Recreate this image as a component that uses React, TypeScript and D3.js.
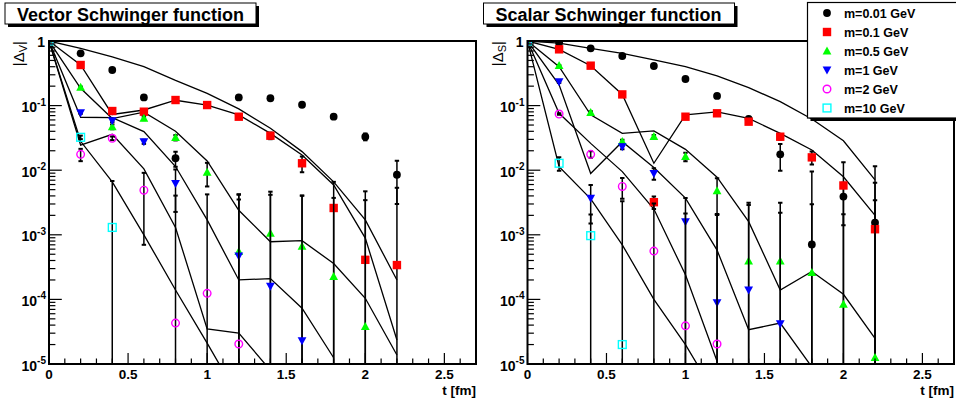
import React from "react";
import * as d3 from "d3";

// ---------- data ----------
const T = [0, 0.2, 0.4, 0.6, 0.8, 1.0, 1.2, 1.4, 1.6, 1.8, 2.0, 2.2];
const MASS_LABELS = ["m=0.01 GeV", "m=0.1 GeV", "m=0.5 GeV", "m=1 GeV", "m=2 GeV", "m=10 GeV"];
const COLORS = ["#000000", "#ff0000", "#00ff00", "#0000ff", "#ff00ff", "#00ffff"];
const SHAPES = ["circle", "square", "triUp", "triDown", "openCircle", "openSquare"];
const X_TICKS = [0, 0.5, 1, 1.5, 2, 2.5];
const Y_DECADES = [0, -1, -2, -3, -4, -5];

// Vector Schwinger function: points (null = not shown) and errors
const vecBlack = [1, 0.645, 0.356, 0.134, 0.0153, 0.102, 0.134, 0.13, 0.103, 0.0673, 0.033, 0.0085];
const vecBlackErr = [0, 0.01, 0.005, 0.005, 0.004, 0.005, 0.005, 0.005, 0.005, 0.004, 0.004, 0.0055];
const vecRed = [1, 0.425, 0.0824, 0.0805, 0.122, 0.102, 0.0673, 0.0342, 0.0128, 0.0026, 0.00041, 0.00034];
const vecRedErr = [0, 0.01, 0.005, 0.005, 0.005, 0.005, 0.004, 0.004, 0.0035, 0.004, 0.0043, 0.005];
const vecGreen = [1, 0.192, 0.047, 0.0636, 0.0319, 0.0093, 0.00055, 0.00105, 0.00066, 0.000225, 0.000038, null];
const vecGreenErr = [0, 0.005, 0.004, 0.004, 0.003, 0.0037, 0.0037, 0.0036, 0.0034, 0.0035, 0.0034, 0];
const vecBlue = [1, 0.0777, 0.0584, 0.0276, 0.00626, null, 0.00047, 0.00016, 0.000023, null, null, null];
const vecBlueErr = [0, 0.003, 0.003, 0.002, 0.004, 0, 0.0037, 0.004, 0.004, 0, 0, 0];
const vecMagenta = [1, 0.0176, 0.0312, 0.0049, 0.000043, 0.000124, 0.0000204, null, null, null, null, null];
const vecMagentaErr = [0, 0.0038, 0.002, 0.0042, 0.004, 0.0041, 0.0035, 0, 0, 0, 0, 0];
const vecCyan = [1, 0.0323, 0.0013, null, null, null, null, null, null, null, null, null];
const vecCyanErr = [0, 0.002, 0.0055, 0, 0, 0, 0, 0, 0, 0, 0, 0];

// Vector: model curves
const vecLineBlack = [1, 0.77, 0.57, 0.4, 0.245, 0.155, 0.089, 0.0446, 0.0194, 0.0066, 0.0017, 0.0002];
const vecLineRed = [1, 0.425, 0.073, 0.0855, 0.121, 0.102, 0.0716, 0.0372, 0.0172, 0.0059, 0.00089, 0.0000235];
const vecLineGreen = [1, 0.185, 0.063, 0.079, 0.04, 0.0139, 0.0024, 0.00078, 0.00081, 0.00036, 0.000104, 0.0000138];
const vecLineBlue = [1, 0.066, 0.065, 0.0395, 0.0114, 0.0017, 0.0002, 0.00021, 0.000073, 0.0000125];
const vecLineMagenta = [1, 0.0245, 0.036, 0.0105, 0.0013, 0.000035, 0.00003, 0.000008];
const vecLineCyan = [1, 0.028, 0.0066, 0.001, 0.00014, 0.000021, 0.000003];

// Scalar Schwinger function
const scaBlack = [1, 0.94, 0.77, 0.586, 0.41, 0.258, 0.141, 0.062, 0.0176, 0.00071, 0.0039, 0.00154];
const scaBlackErr = [0, 0.01, 0.01, 0.01, 0.01, 0.01, 0.005, 0.004, 0.0078, 0.0088, 0.0025, 0.01];
const scaRed = [1, 0.743, 0.415, 0.149, 0.0032, 0.0673, 0.076, 0.0564, 0.033, 0.0158, 0.0058, 0.00122];
const scaRedErr = [0, 0.01, 0.01, 0.005, 0.0007, 0.003, 0.003, 0.003, 0.003, 0.0036, 0.0075, 0.0052];
const scaGreen = [1, 0.415, 0.0777, 0.0276, 0.033, 0.0162, 0.0048, 0.00039, 0.00039, 0.00026, 0.000084, 0.0000126];
const scaGreenErr = [0, 0.01, 0.004, 0.002, 0.002, 0.0025, 0.0027, 0.0025, 0.0018, 0.0027, 0.002, 0.0034];
const scaBlue = [1, 0.234, 0.0037, 0.0231, 0.0089, 0.0016, 0.000089, 0.00014, 0.000042, null, null, null];
const scaBlueErr = [0, 0.01, 0.0022, 0.002, 0.0018, 0.0021, 0.002, 0.003, 0.0031, 0, 0, 0];
const scaMagenta = [1, 0.074, 0.0176, 0.0056, 0.00056, 0.000039, 0.0000204, null, null, null, null, null];
const scaMagentaErr = [0, 0.002, 0.002, 0.002, 0.0025, 0.0021, 0.002, 0, 0, 0, 0, 0];
const scaCyan = [1, 0.0128, 0.00097, 0.00002, null, null, null, null, null, null, null, null];
const scaCyanErr = [0, 0.003, 0.0011, 0.0033, 0, 0, 0, 0, 0, 0, 0, 0];

const scaLineBlack = [1, 0.93, 0.77, 0.645, 0.51, 0.4, 0.288, 0.19, 0.115, 0.062, 0.0285, 0.0071];
const scaLineRed = [1, 0.743, 0.415, 0.149, 0.0128, 0.072, 0.08, 0.0636, 0.0372, 0.0206, 0.0079, 0.002];
const scaLineGreen = [1, 0.4, 0.072, 0.0372, 0.0405, 0.021, 0.0078, 0.0016, 0.00014, 0.00027, 0.00012, 0.000025];
const scaLineBlue = [1, 0.21, 0.0089, 0.0276, 0.011, 0.0037, 0.00058, 0.000034, 0.000043, 0.000009];
const scaLineMagenta = [1, 0.076, 0.026, 0.0095, 0.0025, 0.00024, 0.000011];
const scaLineCyan = [1, 0.0113, 0.0036, 0.0007, 0.0001, 0.00002, 0.000003];

// ---------- layout ----------
const W = 956;
const H = 400;
const TOP = 41;
const BOTTOM = 364;
const FONT = "'Liberation Sans', Arial, Helvetica, sans-serif";

type PanelProps = {
  id: string;
  x0: number;
  x1: number;
  title: string;
  titleX: number;
  sub: string;
  points: (number | null)[][];
  errs: number[][];
  lines: number[][];
};

function Marker({ shape, color, cx, cy }: { shape: string; color: string; cx: number; cy: number }) {
  const s = 4.2;
  switch (shape) {
    case "circle":
      return <circle cx={cx} cy={cy} r={3.9} fill={color} />;
    case "square":
      return <rect x={cx - s} y={cy - s} width={2 * s} height={2 * s} fill={color} />;
    case "triUp":
      return <path d={`M${cx},${cy - 4.6}L${cx + 4.4},${cy + 3.4}L${cx - 4.4},${cy + 3.4}Z`} fill={color} />;
    case "triDown":
      return <path d={`M${cx},${cy + 4.6}L${cx + 4.4},${cy - 3.4}L${cx - 4.4},${cy - 3.4}Z`} fill={color} />;
    case "openCircle":
      return <circle cx={cx} cy={cy} r={3.8} fill="none" stroke={color} strokeWidth={1.4} />;
    case "openSquare":
      return <rect x={cx - 3.9} y={cy - 3.9} width={7.8} height={7.8} fill="none" stroke={color} strokeWidth={1.4} />;
    default:
      return null;
  }
}

function Panel({ id, x0, x1, title, titleX, sub, points, errs, lines }: PanelProps) {
  const x = d3.scaleLinear().domain([0, 2.7]).range([x0, x1]);
  const y = d3.scaleLog().domain([1e-5, 1]).range([BOTTOM, TOP]);
  const line = d3
    .line<number>()
    .x((_, i) => x(T[i]))
    .y((v) => y(v));

  const minorY: number[] = [];
  for (let d = -5; d < 0; d++) for (let k = 2; k <= 9; k++) minorY.push(k * Math.pow(10, d));
  const minorX: number[] = d3.range(0, 28).map((i) => i / 10);

  const clipId = `clip-${id}`;
  return (
    <g>
      <defs>
        <clipPath id={clipId}>
          <rect x={x0} y={TOP} width={x1 - x0} height={BOTTOM - TOP} />
        </clipPath>
      </defs>

      {/* title box */}
      <rect x={titleX - 9} y={6} width={251} height={21} fill="#000" />
      <rect x={titleX - 12} y={3} width={251} height={21} fill="#fff" stroke="#000" strokeWidth={1} />
      <text x={titleX} y={20.5} fontFamily={FONT} fontWeight="bold" fontSize={18}>
        {title}
      </text>

      {/* model curves */}
      <g clipPath={`url(#${clipId})`}>
        {lines.map((ln, i) => (
          <path key={i} d={line(ln) || ""} fill="none" stroke="#000" strokeWidth={1.3} />
        ))}
      </g>

      {/* error bars and markers */}
      <g clipPath={`url(#${clipId})`}>
        {points.map((series, si) => (
          <g key={si}>
            {series.map((v, i) => {
              if (v === null) return null;
              const e = errs[si][i];
              if (!e) return null;
              const cx = x(T[i]);
              const hi = Math.min(v + e, 1);
              const lo = v - e;
              const yHi = y(hi);
              const yLo = lo > 1e-5 ? y(lo) : BOTTOM + 2;
              return (
                <g key={i}>
                  <line x1={cx} x2={cx} y1={yHi} y2={yLo} stroke="#000" strokeWidth={1.5} />
                  <line x1={cx - 2.2} x2={cx + 2.2} y1={yHi} y2={yHi} stroke="#000" strokeWidth={2} />
                  {lo > 1e-5 && (
                    <line x1={cx - 2.2} x2={cx + 2.2} y1={yLo} y2={yLo} stroke="#000" strokeWidth={2} />
                  )}
                </g>
              );
            })}
            {series.map((v, i) =>
              v === null || v < 1e-5 ? null : (
                <Marker key={`m${i}`} shape={SHAPES[si]} color={COLORS[si]} cx={x(T[i])} cy={y(v)} />
              )
            )}
          </g>
        ))}
      </g>

      {/* frame */}
      <rect x={x0} y={TOP} width={x1 - x0} height={BOTTOM - TOP} fill="none" stroke="#000" strokeWidth={2} />

      {/* y ticks */}
      {Y_DECADES.map((d) => (
        <line key={`yM${d}`} x1={x0} x2={x0 + 12.8} y1={y(Math.pow(10, d))} y2={y(Math.pow(10, d))} stroke="#000" strokeWidth={1.2} />
      ))}
      {minorY.map((v, i) => (
        <line key={`ym${i}`} x1={x0} x2={x0 + 6.4} y1={y(v)} y2={y(v)} stroke="#000" strokeWidth={1.2} />
      ))}
      {Y_DECADES.map((d) =>
        d === 0 ? (
          <text key={`yl${d}`} x={x0 - 4} y={y(1) + 5.5} textAnchor="end" fontFamily={FONT} fontWeight="bold" fontSize={14}>
            1
          </text>
        ) : (
          <text key={`yl${d}`} x={x0 - 3} y={y(Math.pow(10, d)) + 6.5} textAnchor="end" fontFamily={FONT} fontWeight="bold" fontSize={14}>
            10
            <tspan dy={-6.5} fontSize={10}>
              {`-${-d}`}
            </tspan>
          </text>
        )
      )}

      {/* x ticks */}
      {minorX.map((t, i) => {
        const major = i % 5 === 0;
        return (
          <line key={`xt${i}`} x1={x(t)} x2={x(t)} y1={BOTTOM} y2={BOTTOM - (major ? 11 : 5.5)} stroke="#000" strokeWidth={1.2} />
        );
      })}
      {X_TICKS.map((t) => (
        <text key={`xl${t}`} x={x(t)} y={379} textAnchor="middle" fontFamily={FONT} fontWeight="bold" fontSize={13.5}>
          {String(t)}
        </text>
      ))}
      <text x={x1} y={395} textAnchor="end" fontFamily={FONT} fontWeight="bold" fontSize={13.5}>
        t [fm]
      </text>

      {/* y title */}
      <text transform={`translate(${x0 - 25},${TOP}) rotate(-90)`} textAnchor="end" fontFamily={FONT} fontSize={15}>
        |Δ
        <tspan dy={3} fontSize={11}>
          {sub}
        </tspan>
        <tspan dy={-3}>|</tspan>
      </text>
    </g>
  );
}

function Legend() {
  const lx = 807.5;
  const ly = 2.5;
  const rowY = [13, 32, 51, 70, 89, 108];
  return (
    <g>
      <rect x={lx + 3} y={ly + 3} width={160} height={115.5} fill="#000" />
      <rect x={lx} y={ly} width={160} height={115.5} fill="#fff" stroke="#000" strokeWidth={1.2} />
      {MASS_LABELS.map((lab, i) => (
        <g key={lab}>
          <Marker shape={SHAPES[i]} color={COLORS[i]} cx={827} cy={rowY[i]} />
          <text x={844} y={rowY[i] + 4.5} fontFamily={FONT} fontWeight="bold" fontSize={12.5}>
            {lab}
          </text>
        </g>
      ))}
    </g>
  );
}

export default function App() {
  const vecPoints = [vecBlack, vecRed, vecGreen, vecBlue, vecMagenta, vecCyan];
  const vecErrs = [vecBlackErr, vecRedErr, vecGreenErr, vecBlueErr, vecMagentaErr, vecCyanErr];
  const vecLines = [vecLineBlack, vecLineRed, vecLineGreen, vecLineBlue, vecLineMagenta, vecLineCyan];
  const scaPoints = [scaBlack, scaRed, scaGreen, scaBlue, scaMagenta, scaCyan];
  const scaErrs = [scaBlackErr, scaRedErr, scaGreenErr, scaBlueErr, scaMagentaErr, scaCyanErr];
  const scaLines = [scaLineBlack, scaLineRed, scaLineGreen, scaLineBlue, scaLineMagenta, scaLineCyan];
  return (
    <svg
      width={W}
      height={H}
      viewBox={`0 0 ${W} ${H}`}
      style={{ position: "absolute", left: 0, top: 0, background: "#fff" }}
    >
      <rect x={0} y={0} width={W} height={H} fill="#fff" />
      <Panel id="vec" x0={49} x1={476} title="Vector Schwinger function" titleX={17} sub="V" points={vecPoints} errs={vecErrs} lines={vecLines} />
      <Panel id="sca" x0={527.5} x1={954} title="Scalar Schwinger function" titleX={495.5} sub="S" points={scaPoints} errs={scaErrs} lines={scaLines} />
      <Legend />
    </svg>
  );
}
